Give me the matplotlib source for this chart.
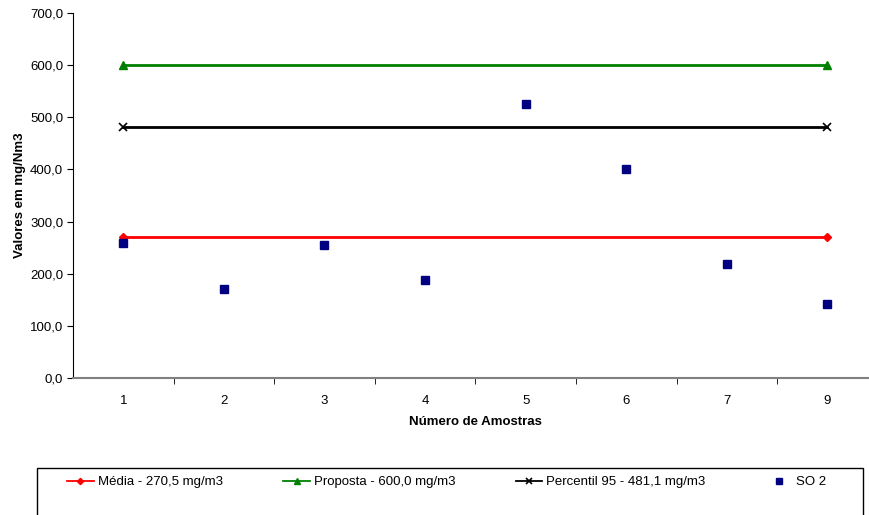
import matplotlib
matplotlib.use("Agg")
import matplotlib.pyplot as plt
from matplotlib.patches import Rectangle
from matplotlib.ticker import FuncFormatter

plt.rcParams["font.family"] = ["Liberation Sans", "DejaVu Sans"]

# samples and measured SO2 values (mg/Nm3)
amostras = ["1", "2", "3", "4", "5", "6", "7", "9"]
so2 = [259.5, 170.5, 255.0, 188.0, 524.5, 400.0, 218.0, 142.0]

media = 270.5
proposta = 600.0
percentil95 = 481.1

fig = plt.figure(figsize=(8.7, 5.15), dpi=100)
ax = fig.add_axes([0.0839, 0.266, 0.925, 0.709])

x = list(range(len(amostras)))
ends = [x[0], x[-1]]

ax.plot(ends, [media] * 2, color="#ff0000", lw=2, marker="D", ms=4,
        label="Média - 270,5 mg/m3")
ax.plot(ends, [proposta] * 2, color="#008000", lw=2, marker="^", ms=6,
        label="Proposta - 600,0 mg/m3")
ax.plot(ends, [percentil95] * 2, color="#000000", lw=2, marker="x", ms=6,
        mew=1.2, label="Percentil 95 - 481,1 mg/m3")
ax.plot(x, so2, ls="none", marker="s", ms=6, color="#000080",
        mec="#000080", label="SO 2", zorder=5)

ax.set_xlim(-0.5, len(amostras) - 0.5)
ax.set_ylim(0, 700)
ax.set_yticks(range(0, 701, 100))
ax.yaxis.set_major_formatter(FuncFormatter(lambda v, p: f"{v:.1f}".replace(".", ",")))
ax.set_xticks(x)
ax.set_xticklabels(amostras)
ax.set_xticks([i + 0.5 for i in x[:-1]], minor=True)
ax.tick_params(axis="x", which="major", length=0, pad=12, labelsize=9.5)
ax.tick_params(axis="x", which="minor", length=4, direction="out", color="black")
ax.tick_params(axis="y", length=4, direction="out", labelsize=9.5, pad=3)

for s in ("top", "right"):
    ax.spines[s].set_visible(False)
ax.spines["left"].set_color("black")
ax.spines["bottom"].set_color("#808080")
ax.spines["bottom"].set_linewidth(1.5)

ax.set_ylabel("Valores em mg/Nm3", fontsize=9.5, fontweight="bold", labelpad=3)
ax.set_xlabel("Número de Amostras", fontsize=9.5, fontweight="bold", labelpad=7)

# legend box along the bottom
fig.patches.append(Rectangle((37 / 870, -0.05), 826 / 870, 0.142,
                             transform=fig.transFigure, fill=False,
                             edgecolor="black", lw=1))
handles, labels = ax.get_legend_handles_labels()
leg = fig.legend(handles, labels, ncol=4, loc="center left",
                 bbox_to_anchor=(62 / 870, 1 - 482 / 515), frameon=False,
                 fontsize=9.5, handlelength=2.0, handletextpad=0.3,
                 columnspacing=4.6, borderaxespad=0)
for line in leg.get_lines():
    line.set_linewidth(1.3)
    line.set_markersize(line.get_markersize() * 0.8)

fig.savefig("out.png", dpi=100)
